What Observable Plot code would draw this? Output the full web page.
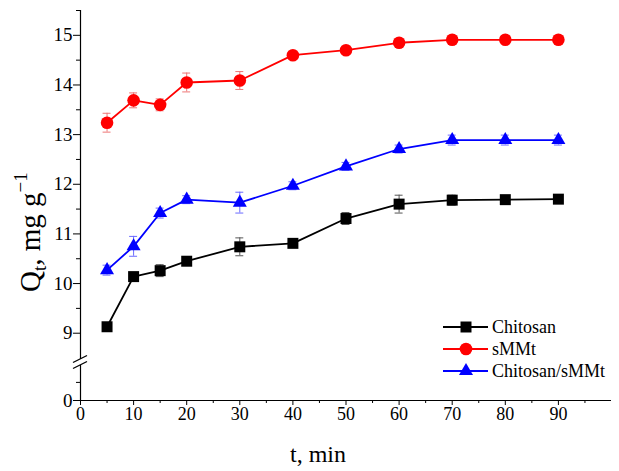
<!DOCTYPE html>
<html><head><meta charset="utf-8">
<script src="https://cdn.jsdelivr.net/npm/d3@7"></script>
<script src="https://cdn.jsdelivr.net/npm/@observablehq/plot@0.6"></script>
<style>body{margin:0;background:#fff}</style>
</head><body><div id="chart"></div>
<script>
// ---- data ----
const times = [5, 10, 15, 20, 30, 40, 50, 60, 70, 80, 90];
const chitosan    = [9.13, 10.14, 10.26, 10.45, 10.74, 10.81, 11.31, 11.60, 11.68, 11.69, 11.70];
const chitosanErr = [0.06, 0.06, 0.12, 0.05, 0.18, 0.08, 0.12, 0.18, 0.10, 0.05, 0.05];
const smmt        = [13.24, 13.69, 13.60, 14.05, 14.09, 14.60, 14.70, 14.85, 14.91, 14.91, 14.91];
const smmtErr     = [0.19, 0.15, 0.12, 0.19, 0.18, 0.05, 0.05, 0.05, 0.05, 0.05, 0.05];
const blend       = [10.27, 10.75, 11.42, 11.69, 11.63, 11.97, 12.36, 12.71, 12.89, 12.89, 12.89];
const blendErr    = [0.10, 0.20, 0.10, 0.08, 0.21, 0.08, 0.08, 0.08, 0.10, 0.10, 0.10];
const seriesNames = ["Chitosan", "sMMt", "Chitosan/sMMt"];
const xTicks = [0, 10, 20, 30, 40, 50, 60, 70, 80, 90];
const xMinor = [5, 15, 25, 35, 45, 55, 65, 75, 85, 95];
const yTicks = [0, 9, 10, 11, 12, 13, 14, 15];
const yMinor = [0.5, 9.5, 10.5, 11.5, 12.5, 13.5, 14.5, 15.5];
const xLabel = "t, min";

// ---- styling ----
const lineColors = ["#000000", "#ff0000", "#0000ff"];
const errColors  = ["#555555", "#ee7777", "#6a6aff"];
const symbols    = ["square", "circle", "triangle"];
const symbolR    = [6.2, 6.3, 5.2];
const font = "'Liberation Serif', 'Times New Roman', serif";

const values = [chitosan, smmt, blend];
const errs = [chitosanErr, smmtErr, blendErr];
const rows = seriesNames.flatMap((s, k) => times.map((t, i) => ({series: s, k, t, q: values[k][i], e: errs[k][i]})));

// broken y axis: lower segment [0, ~1], upper segment [8.4, 15.5]
const yDomain = [0, 1.05, 8.41, 15.5];
const yRange  = [400, 362, 362, 10];

const marks = [
  Plot.axisX({ticks: xTicks, tickSize: 5, tickPadding: 2, fontSize: 18, label: null}),
  Plot.axisX({ticks: xMinor, tickSize: 3, tickFormat: () => "", label: null}),
  Plot.axisY({ticks: yTicks, tickSize: 7, tickPadding: 1, fontSize: 19, label: null}),
  Plot.axisY({ticks: yMinor, tickSize: 4, tickFormat: () => "", label: null}),
  Plot.ruleX([0], {y1: 0, y2: 15.5, strokeWidth: 1.2}),
  Plot.ruleY([0], {x1: 0, x2: 100, strokeWidth: 1.2})
];
seriesNames.forEach((s, k) => {
  const data = rows.filter(d => d.k === k);
  marks.push(
    Plot.ruleX(data, {x: "t", y1: d => d.q - d.e, y2: d => d.q + d.e, stroke: errColors[k], strokeWidth: 1}),
    Plot.ruleY(data, {y: d => d.q + d.e, x1: d => d.t - 0.75, x2: d => d.t + 0.75, stroke: errColors[k], strokeWidth: 1}),
    Plot.ruleY(data, {y: d => d.q - d.e, x1: d => d.t - 0.75, x2: d => d.t + 0.75, stroke: errColors[k], strokeWidth: 1})
  );
});
seriesNames.forEach((s, k) => {
  const data = rows.filter(d => d.k === k);
  marks.push(
    Plot.line(data, {x: "t", y: "q", stroke: lineColors[k], strokeWidth: 1.8}),
    Plot.dot(data, {x: "t", y: "q", symbol: () => symbols[k], r: symbolR[k], fill: lineColors[k], stroke: "none"})
  );
});

const plot = Plot.plot({
  width: 619, height: 471,
  marginLeft: 80, marginRight: 8, marginTop: 10, marginBottom: 71,
  x: {domain: [0, 100]},
  y: {type: "linear", domain: yDomain, range: yRange},
  symbol: {type: "identity"},
  style: {fontFamily: font, background: "#fff", color: "#000", overflow: "visible"},
  marks
});
document.getElementById("chart").appendChild(plot);

// ---- post: axis break, titles, legend ----
const svg = d3.select(plot);
const xs = plot.scale("x"), ys = plot.scale("y");
const x0 = xs.apply(0), yb = ys.apply(4.7);
const br = svg.append("g");
br.append("line").attr("x1", x0).attr("x2", x0).attr("y1", yb - 3).attr("y2", yb + 3).attr("stroke", "#fff").attr("stroke-width", 4);
[-3, 3].forEach(o => br.append("line")
  .attr("x1", x0 - 7).attr("y1", yb + o + 3.5).attr("x2", x0 + 7).attr("y2", yb + o - 3.5)
  .attr("stroke", "#000").attr("stroke-width", 1.3));

svg.append("text").attr("x", 318).attr("y", 462)
  .attr("text-anchor", "middle").attr("font-family", font).attr("font-size", 24).attr("fill", "#000").text(xLabel);

const yl = svg.append("text").attr("transform", "translate(40,292) rotate(-90)").attr("text-anchor", "start")
  .attr("font-family", font).attr("font-size", 29).attr("fill", "#000");
yl.append("tspan").text("Q");
yl.append("tspan").attr("font-size", 19).attr("dy", 6).text("t");
yl.append("tspan").attr("font-size", 29).attr("dy", -6).text(", mg g");
yl.append("tspan").attr("font-size", 19).attr("dy", -13).text("\u22121");

const lg = svg.append("g").attr("text-anchor", "start");
seriesNames.forEach((s, k) => {
  const y = 327 + k * 22;
  lg.append("line").attr("x1", 443).attr("x2", 488).attr("y1", y).attr("y2", y).attr("stroke", lineColors[k]).attr("stroke-width", 1.8);
  const sym = {square: d3.symbolSquare, circle: d3.symbolCircle, triangle: d3.symbolTriangle}[symbols[k]];
  lg.append("path").attr("transform", `translate(466,${y})`)
    .attr("d", d3.symbol(sym, Math.PI * symbolR[k] * symbolR[k])()).attr("fill", lineColors[k]);
  lg.append("text").attr("x", 492).attr("y", y + 6).attr("text-anchor", "start").attr("font-family", font).attr("font-size", 18).attr("fill", "#000").text(s);
});
</script>
</body></html>
